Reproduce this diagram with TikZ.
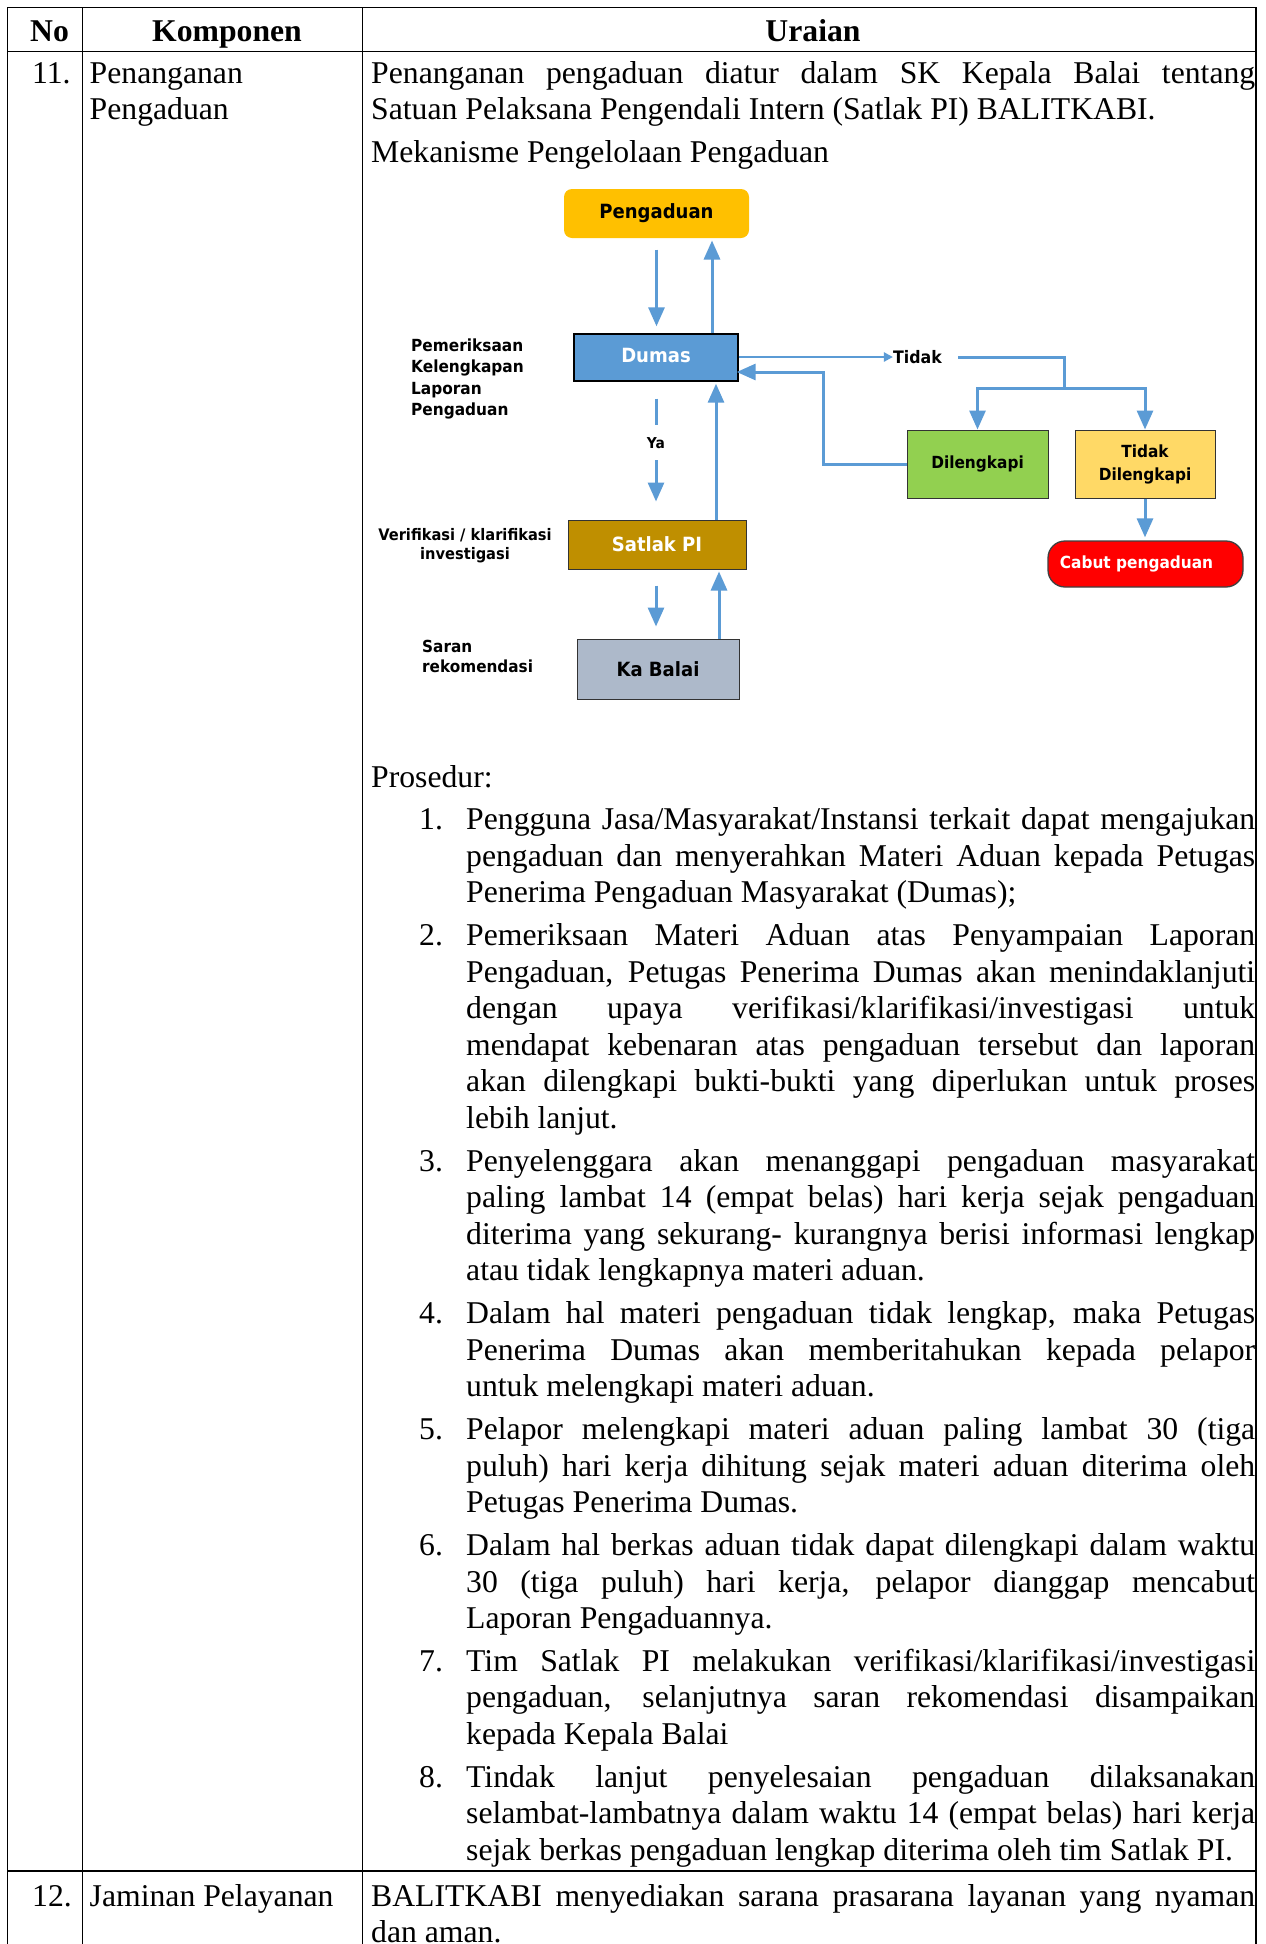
\documentclass[tikz,border=0pt]{standalone}
\usepackage{fontspec}
\setmainfont{Liberation Serif}
\newfontfamily\fc{DejaVu Sans}[FakeStretch=0.92]
\usetikzlibrary{arrows.meta,calc}
\definecolor{ablue}{HTML}{5B9BD5}
\definecolor{cgold}{HTML}{FFC000}
\definecolor{csatlak}{HTML}{BF8F00}
\definecolor{ckabalai}{HTML}{ADB9CA}
\definecolor{cdil}{HTML}{92D050}
\definecolor{ctdil}{HTML}{FFD966}
\definecolor{ccabut}{HTML}{FF0000}
\newcommand\JL[4]{\node[txt] (#1) at (#2) {\makebox[#3][s]{#4}};}
\newcommand\LL[3]{\node[txt] (#1) at (#2) {#3};}
\begin{document}
\begin{tikzpicture}[x=1pt,y=-1pt,
  tab/.style={line width=1.3pt, draw=black},
  txt/.style={inner sep=0pt, anchor=base west, font=\fontsize{31.7}{36.6}\selectfont},
  hd/.style={inner sep=0pt, anchor=base, font=\fontsize{31.7}{36.6}\selectfont\bfseries},
  fcbox/.style={draw=black!80, line width=1pt, inner sep=0pt, font=\fc\bfseries\fontsize{19.6}{22}\selectfont, align=center},
  slbl/.style={inner sep=0pt, font=\fc\bfseries\fontsize{16.7}{21.3}\selectfont},
  arr/.style={draw=ablue, line width=3pt, -{Triangle[length=19pt,width=16pt]}},
  ln/.style={draw=ablue, line width=3pt}]
\useasboundingbox (0,0) rectangle (1266,1944);
\fill[white] (0,0) rectangle (1266,1944);
% table
\draw[tab] (7.3,7.3) -- (1256,7.3);
\draw[tab] (7.3,51.7) -- (1256,51.7);
\draw[tab] (7.3,1871) -- (1256,1871);
\draw[tab] (7.3,7.3) -- (7.3,1944);
\draw[tab] (82.7,7.3) -- (82.7,1944);
\draw[tab] (362.3,7.3) -- (362.3,1944);
\draw[tab] (1256,7.3) -- (1256,1944);
% header
\node[hd] (hno) at (49.6,41) {No};
\node[hd] (hkomp) at (227,41) {Komponen};
\node[hd] (hur) at (813,41) {Uraian};
% row 11
\LL{n11}{32,83}{11.}
\LL{k11a}{89.5,83}{Penanganan}
\LL{k11b}{89.5,119.6}{Pengaduan}
\JL{u1}{371,83}{884pt}{Penanganan pengaduan diatur dalam SK Kepala Balai tentang}
\LL{u2}{371,119.6}{Satuan Pelaksana Pengendali Intern (Satlak PI) BALITKABI.}
\LL{u3}{371,162.4}{Mekanisme Pengelolaan Pengaduan}
% flowchart
\node[fcbox, draw=none, fill=cgold, rounded corners=8pt, minimum width=185pt, minimum height=49pt] (peng) at (656.5,213.5) {Pengaduan};
\node[fcbox, draw=black, line width=1.4pt, fill=ablue, text=white, minimum width=164pt, minimum height=47pt] (dumas) at (656,357.5) {\raisebox{4pt}{Dumas}};
\node[fcbox, fill=csatlak, text=white, minimum width=178pt, minimum height=49pt] (satlak) at (657,544.5) {Satlak PI};
\node[fcbox, fill=ckabalai, minimum width=162pt, minimum height=60pt] (kabalai) at (658,669) {Ka Balai};
\node[fcbox, fill=cdil, font=\fc\bfseries\fontsize{16.7}{23}\selectfont, minimum width=141pt, minimum height=68pt] (dil) at (977.5,464) {Dilengkapi};
\node[fcbox, fill=ctdil, font=\fc\bfseries\fontsize{16.7}{23}\selectfont, minimum width=140pt, minimum height=68pt] (tdil) at (1145,464) {Tidak\\Dilengkapi};
\node[fcbox, fill=ccabut, text=white, draw=black!75, line width=1.3pt, rounded corners=17pt, font=\fc\bfseries\fontsize{16.7}{20}\selectfont, minimum width=195pt, minimum height=46pt] (cabut) at (1145.5,564) {Cabut pengaduan\hspace*{18pt}};
\node[slbl, font=\fc\bfseries\fontsize{17.2}{21}\selectfont] (tidak) at (917.5,357) {Tidak};
\node[slbl, font=\fc\bfseries\fontsize{15}{18}\selectfont] (ya) at (656,443) {Ya};
\node[slbl, anchor=west, align=left] (lbl1) at (411,379) {Pemeriksaan\\Kelengkapan\\Laporan\\Pengaduan};
\node[slbl, align=center, font=\fc\bfseries\fontsize{15.9}{19}\selectfont] (lbl2) at (465,546) {Verifikasi / klarifikasi\\investigasi};
\node[slbl, anchor=west, align=left, font=\fc\bfseries\fontsize{16.6}{20}\selectfont] (lbl3) at (422,656) {Saran\\rekomendasi};
\coordinate (xa) at (712,0);
\coordinate (xb) at (716,0);
\coordinate (xc) at (719,0);
\coordinate (xd) at (823,0);
\coordinate (cj) at (1064,388);
\coordinate (dret) at ([yshift=-14.5pt]dumas.east);
% connectors
\draw[arr, shorten <=11pt, shorten >=7pt] (peng.south) -- (peng.south |- dumas.north);
\draw[arr, shorten >=2pt] (dumas.north -| xa) -- (peng.south -| xa);
\draw[ln, shorten <=17pt, shorten >=18pt] (dumas.south) -- (ya.center);
\draw[arr, shorten <=17pt, shorten >=18pt] (ya.center) -- (ya.center |- satlak.north);
\draw[arr, shorten >=2pt] (satlak.north -| xb) -- (dumas.south -| xb);
\draw[arr, shorten <=16pt, shorten >=12pt] (dumas.south |- satlak.south) -- (dumas.south |- kabalai.north);
\draw[arr, shorten >=2pt] (kabalai.north -| xc) -- (satlak.south -| xc);
\draw[draw=ablue, line width=2.5pt, -{Triangle[length=9pt,width=9pt]}] (dumas.east |- tidak.west) -- (tidak.west);
\draw[ln, shorten <=16pt] (tidak.east) -| (cj);
\draw[arr] (cj) -| (dil.north);
\draw[arr] (cj) -| (tdil.north);
\draw[arr, shorten >=3pt] (tdil.south) -- (tdil.south |- cabut.north);
\draw[arr, shorten >=-2pt] (dil.west) -- (dil.west -| xd) |- (dret);
% prosedur
\LL{pro}{371,787.3}{Prosedur:}
\LL{i1}{419,829.5}{1.}
\JL{a1}{466,829.5}{789pt}{Pengguna Jasa/Masyarakat/Instansi terkait dapat mengajukan}
\JL{a2}{466,866.1}{789pt}{pengaduan dan menyerahkan Materi Aduan kepada Petugas}
\LL{a3}{466,902.7}{Penerima Pengaduan Masyarakat (Dumas);}
\LL{i2}{419,945.4}{2.}
\JL{b1}{466,945.4}{789pt}{Pemeriksaan Materi Aduan atas Penyampaian Laporan}
\JL{b2}{466,982.0}{789pt}{Pengaduan, Petugas Penerima Dumas akan menindaklanjuti}
\JL{b3}{466,1018.6}{789pt}{dengan upaya verifikasi/klarifikasi/investigasi untuk}
\JL{b4}{466,1055.2}{789pt}{mendapat kebenaran atas pengaduan tersebut dan laporan}
\JL{b5}{466,1091.8}{789pt}{akan dilengkapi bukti-bukti yang diperlukan untuk proses}
\LL{b6}{466,1128.4}{lebih lanjut.}
\LL{i3}{419,1171.1}{3.}
\JL{c1}{466,1171.1}{789pt}{Penyelenggara akan menanggapi pengaduan masyarakat}
\JL{c2}{466,1207.7}{789pt}{paling lambat 14 (empat belas) hari kerja sejak pengaduan}
\JL{c3}{466,1244.3}{789pt}{diterima yang sekurang- kurangnya berisi informasi lengkap}
\LL{c4}{466,1280.9}{atau tidak lengkapnya materi aduan.}
\LL{i4}{419,1323.6}{4.}
\JL{d1}{466,1323.6}{789pt}{Dalam hal materi pengaduan tidak lengkap, maka Petugas}
\JL{d2}{466,1360.2}{789pt}{Penerima Dumas akan memberitahukan kepada pelapor}
\LL{d3}{466,1396.8}{untuk melengkapi materi aduan.}
\LL{i5}{419,1439.5}{5.}
\JL{e1}{466,1439.5}{789pt}{Pelapor melengkapi materi aduan paling lambat 30 (tiga}
\JL{e2}{466,1476.1}{789pt}{puluh) hari kerja dihitung sejak materi aduan diterima oleh}
\LL{e3}{466,1512.7}{Petugas Penerima Dumas.}
\LL{i6}{419,1555.4}{6.}
\JL{f1}{466,1555.4}{789pt}{Dalam hal berkas aduan tidak dapat dilengkapi dalam waktu}
\JL{f2}{466,1592.0}{789pt}{30 (tiga puluh) hari kerja, pelapor dianggap mencabut}
\LL{f3}{466,1628.6}{Laporan Pengaduannya.}
\LL{i7}{419,1671.3}{7.}
\JL{g1}{466,1671.3}{789pt}{Tim Satlak PI melakukan verifikasi/klarifikasi/investigasi}
\JL{g2}{466,1707.9}{789pt}{pengaduan, selanjutnya saran rekomendasi disampaikan}
\LL{g3}{466,1744.5}{kepada Kepala Balai}
\LL{i8}{419,1787.2}{8.}
\JL{h1}{466,1787.2}{789pt}{Tindak lanjut penyelesaian pengaduan dilaksanakan}
\JL{h2}{466,1823.8}{789pt}{selambat-lambatnya dalam waktu 14 (empat belas) hari kerja}
\LL{h3}{466,1860.4}{sejak berkas pengaduan lengkap diterima oleh tim Satlak PI.}
% row 12
\LL{n12}{32,1906}{12.}
\LL{k12}{89.5,1906}{Jaminan Pelayanan}
\JL{j1}{371,1906}{884pt}{BALITKABI menyediakan sarana prasarana layanan yang nyaman}
\LL{j2}{371,1942.6}{dan aman.}
\end{tikzpicture}
\end{document}
